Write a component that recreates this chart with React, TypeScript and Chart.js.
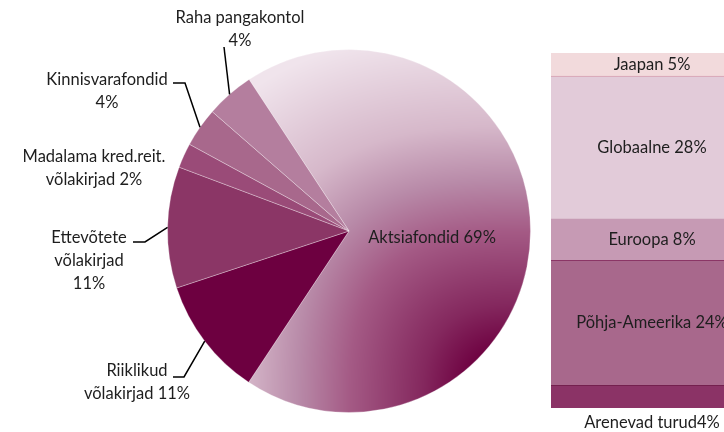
import React, { useEffect, useRef } from 'react';
import { Chart, registerables } from 'chart.js';

Chart.register(...registerables);

// ---------- data ----------
const assetClasses = [
  'Aktsiafondid',
  'Riiklikud võlakirjad',
  'Ettevõtete võlakirjad',
  'Madalama kred.reit. võlakirjad',
  'Kinnisvarafondid',
  'Raha pangakontol',
];
const assetShares = [68.6, 10.6, 10.8, 2.2, 3.5, 4.3];

const regions = ['Arenevad turud', 'Põhja-Ameerika', 'Euroopa', 'Globaalne', 'Jaapan'];
const regionShares = [4.4, 24.3, 8.0, 27.8, 4.5];

// ---------- style ----------
const FONT = '16.5px Lato, "Open Sans", sans-serif';
const TEXT_COLOR = '#1e1e1e';
const LINE_H = 23;

const sliceColors = ['#a45a85', '#6d0040', '#8b3666', '#9a4b78', '#a8688c', '#b47e9e'];

// words per line (percentage appended to last line)
const pieLabelLayout = [
  { wrap: [1], dx: 83, dy: 7, leader: null },
  { wrap: [1, 1], dx: -212, dy: 140, leader: [[-165, 146], [-176, 146]] },
  { wrap: [1, 1, 0], dx: -260, dy: 7, leader: [[-204, 11], [-216, 11]] },
  { wrap: [2, 1], dx: -255, dy: -74, leader: null },
  { wrap: [1, 0], dx: -242, dy: -151, leader: [[-164, -148], [-176, -148]] },
  { wrap: [2, 0], dx: -109, dy: -213, leader: [[-125, -184]] },
];

const barColors = ['#8b3366', '#a8688c', '#c69ab4', '#e2cbd9', '#f2dadc'];
const barBorderColors = ['#74204e', '#8b3666', '#c69ab4', '#d7a0b0', '#f2dadc'];
const barBorderTop = [1, 1, 0, 1, 0];
const barLabelSep = ['', ' ', ' ', ' ', ' '];
const barLabelBelow = [true, false, false, false, false];

const gradStops: [number, number[]][] = [
  [0.18, [0x6d, 0x00, 0x40]],
  [0.3, [0x84, 0x28, 0x5e]],
  [0.5, [0xa4, 0x5a, 0x85]],
  [0.64, [0xb8, 0x8a, 0xa8]],
  [0.79, [0xd6, 0xb8, 0xca]],
  [1.05, [0xf0, 0xe4, 0xec]],
];

function gradColor(t: number): number[] {
  if (t <= gradStops[0][0]) return gradStops[0][1];
  for (let i = 1; i < gradStops.length; i++) {
    const [t1, c1] = gradStops[i];
    const [t0, c0] = gradStops[i - 1];
    if (t <= t1) {
      const f = (t - t0) / (t1 - t0);
      return [0, 1, 2].map((k) => c0[k] + (c1[k] - c0[k]) * f);
    }
  }
  return gradStops[gradStops.length - 1][1];
}

const patternCache = new WeakMap<any, CanvasPattern | null>();

function getPattern(chart: any): CanvasPattern | string {
  if (!chart.chartArea) return sliceColors[0];
  if (patternCache.has(chart)) return patternCache.get(chart) || sliceColors[0];
  const { left, right, top, bottom } = chart.chartArea;
  const cx = (left + right) / 2;
  const cy = (top + bottom) / 2;
  const R = Math.min(right - left, bottom - top) / 2;
  const W = chart.canvas.width;
  const H = chart.canvas.height;
  const off = document.createElement('canvas');
  off.width = W;
  off.height = H;
  const octx = off.getContext('2d')!;
  const img = octx.createImageData(W, H);
  const cornerX = cx + R;
  const cornerY = cy + R;
  const x0 = Math.max(0, Math.floor(cx - R - 2));
  const x1 = Math.min(W, Math.ceil(cx + R + 2));
  const y0 = Math.max(0, Math.floor(cy - R - 2));
  const y1 = Math.min(H, Math.ceil(cy + R + 2));
  for (let y = y0; y < y1; y++) {
    for (let x = x0; x < x1; x++) {
      const dx = Math.max(0, cornerX - x);
      const dy = Math.max(0, cornerY - y);
      const d = Math.cbrt(dx * dx * dx + dy * dy * dy);
      const t = d / (2 * R);
      const c = gradColor(t);
      const idx = (y * W + x) * 4;
      img.data[idx] = c[0];
      img.data[idx + 1] = c[1];
      img.data[idx + 2] = c[2];
      img.data[idx + 3] = 255;
    }
  }
  octx.putImageData(img, 0, 0);
  const p = chart.ctx.createPattern(off, 'no-repeat');
  patternCache.set(chart, p);
  return p || sliceColors[0];
}

function pieLines(i: number): string[] {
  const words = assetClasses[i].split(' ');
  const pct = `${Math.round(assetShares[i])}%`;
  const wrap = pieLabelLayout[i].wrap;
  const lines: string[] = [];
  let k = 0;
  wrap.forEach((n) => {
    lines.push(words.slice(k, k + n).join(' '));
    k += n;
  });
  const last = lines.length - 1;
  lines[last] = lines[last] ? `${lines[last]} ${pct}` : pct;
  return lines;
}

const pieLabelPlugin = {
  id: 'pieLabels',
  afterDraw(chart: any) {
    const meta = chart.getDatasetMeta(0);
    const ctx = chart.ctx;
    ctx.save();
    meta.data.forEach((el: any, i: number) => {
      const cfg = pieLabelLayout[i];
      const { x, y, startAngle, endAngle, outerRadius } = el.getProps(
        ['x', 'y', 'startAngle', 'endAngle', 'outerRadius'],
        true
      );
      if (cfg.leader) {
        const mid = (startAngle + endAngle) / 2;
        ctx.beginPath();
        ctx.moveTo(x + Math.cos(mid) * outerRadius, y + Math.sin(mid) * outerRadius);
        cfg.leader.forEach(([lx, ly]) => ctx.lineTo(x + lx, y + ly));
        ctx.strokeStyle = '#000';
        ctx.lineWidth = 1.5;
        ctx.stroke();
      }
      ctx.font = FONT;
      ctx.fillStyle = TEXT_COLOR;
      ctx.textAlign = 'center';
      ctx.textBaseline = 'middle';
      pieLines(i).forEach((line, li) => {
        ctx.fillText(line, x + cfg.dx, y + cfg.dy + li * LINE_H);
      });
    });
    ctx.restore();
  },
};

const barLabelPlugin = {
  id: 'barLabels',
  afterDatasetsDraw(chart: any) {
    const ctx = chart.ctx;
    ctx.save();
    ctx.font = FONT;
    ctx.fillStyle = TEXT_COLOR;
    ctx.textAlign = 'center';
    ctx.textBaseline = 'middle';
    chart.data.datasets.forEach((ds: any, i: number) => {
      const el = chart.getDatasetMeta(i).data[0];
      const text = `${regions[i]}${barLabelSep[i]}${Math.round(regionShares[i])}%`;
      const yy = barLabelBelow[i] ? el.base + 15 : (el.y + el.base) / 2;
      ctx.fillText(text, el.x, yy);
    });
    ctx.restore();
  },
};

export default function App() {
  const pieRef = useRef<HTMLCanvasElement>(null);
  const barRef = useRef<HTMLCanvasElement>(null);

  useEffect(() => {
    const pie = new Chart(pieRef.current!, {
      type: 'pie',
      data: {
        labels: assetClasses,
        datasets: [
          {
            data: assetShares,
            backgroundColor: (c: any) =>
              c.dataIndex === 0 ? getPattern(c.chart) : sliceColors[c.dataIndex],
            borderColor: 'rgba(255,255,255,0.3)',
            borderWidth: 1,
          },
        ],
      },
      options: {
        responsive: false,
        animation: false,
        events: [],
        rotation: -33.4,
        layout: { padding: { left: 167, right: 193, top: 49, bottom: 19 } },
        plugins: { legend: { display: false }, tooltip: { enabled: false } },
      },
      plugins: [pieLabelPlugin],
    });

    const total = regionShares.reduce((a, b) => a + b, 0);
    const bar = new Chart(barRef.current!, {
      type: 'bar',
      data: {
        labels: ['Aktsiafondid'],
        datasets: regions.map((r, i) => ({
          label: r,
          data: [regionShares[i]],
          backgroundColor: barColors[i],
          borderColor: barBorderColors[i],
          borderWidth: { top: barBorderTop[i], bottom: 0, left: 0, right: 0 },
          borderSkipped: false,
          barPercentage: 1,
          categoryPercentage: 1,
        })),
      },
      options: {
        responsive: false,
        animation: false,
        events: [],
        layout: { padding: { left: 0, right: 0, top: 53, bottom: 24 } },
        scales: {
          x: { stacked: true, display: false },
          y: { stacked: true, display: false, min: 0, max: total },
        },
        plugins: { legend: { display: false }, tooltip: { enabled: false } },
      },
      plugins: [barLabelPlugin],
    });

    return () => {
      pie.destroy();
      bar.destroy();
    };
  }, []);

  return (
    <div
      style={{
        position: 'fixed',
        left: 0,
        top: 0,
        width: 724,
        height: 432,
        overflow: 'hidden',
        background: '#fff',
      }}
    >
      <canvas
        ref={pieRef}
        width={724}
        height={432}
        style={{ position: 'absolute', left: 0, top: 0 }}
      />
      <canvas
        ref={barRef}
        width={202}
        height={432}
        style={{ position: 'absolute', left: 551, top: 0 }}
      />
    </div>
  );
}
